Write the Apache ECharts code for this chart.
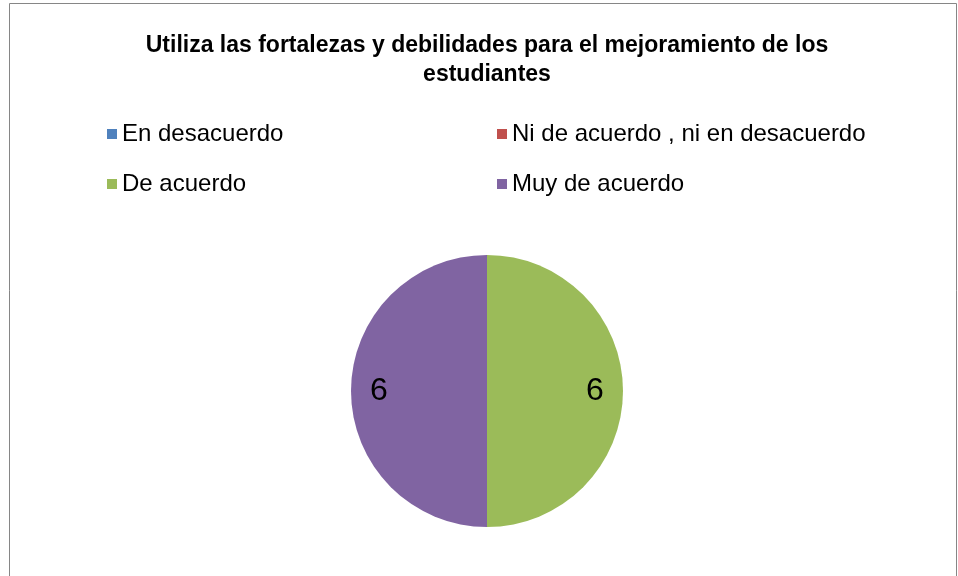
<!DOCTYPE html>
<html>
<head>
<meta charset="utf-8">
<script src="https://cdn.jsdelivr.net/npm/echarts@6/dist/echarts.min.js"></script>
<style>
  html, body { margin: 0; padding: 0; background: #fff; }
  #main { width: 958px; height: 576px; }
</style>
</head>
<body>
<div id="main"></div>
<script>
const titleText = 'Utiliza las fortalezas y debilidades para el mejoramiento de los\nestudiantes';
const categories = ['En desacuerdo', 'Ni de acuerdo , ni en desacuerdo', 'De acuerdo', 'Muy de acuerdo'];
const values = [0, 0, 6, 6];
const colors = ['#4F81BD', '#C0504D', '#9BBB59', '#8064A2'];

const font = '"Liberation Sans", sans-serif';

let chart = echarts.init(document.getElementById('main'));

const pieData = categories.map((name, i) => ({
    name: name,
    value: values[i],
    itemStyle: { color: colors[i] }
}));

let option = {
    animation: false,
    color: colors,
    graphic: [{
        type: 'rect',
        shape: { x: 9.5, y: 3.5, width: 947, height: 620 },
        style: { fill: 'none', stroke: '#868686', lineWidth: 1 },
        silent: true
    }],
    title: {
        text: titleText,
        left: 487,
        textAlign: 'center',
        top: 31,
        padding: 0,
        textStyle: {
            fontFamily: font,
            fontWeight: 'bold',
            fontSize: 23,
            lineHeight: 29,
            color: '#000'
        }
    },
    legend: [{
        orient: 'vertical',
        left: 107,
        top: 122,
        padding: 0,
        itemWidth: 10,
        itemHeight: 10,
        itemGap: 26,
        icon: 'rect',
        data: [categories[0], categories[2]],
        textStyle: { fontFamily: font, fontSize: 24, color: '#000' }
    }, {
        orient: 'vertical',
        left: 497,
        top: 122,
        padding: 0,
        itemWidth: 10,
        itemHeight: 10,
        itemGap: 26,
        icon: 'rect',
        data: [categories[1], categories[3]],
        textStyle: { fontFamily: font, fontSize: 24, color: '#000' }
    }],
    series: [{
        name: 'pie',
        type: 'pie',
        center: [487, 391],
        radius: [0, 136],
        startAngle: 90,
        clockwise: true,
        label: { show: false },
        labelLine: { show: false },
        emphasis: { disabled: true },
        data: pieData
    }, {
        // ring only used to place the value labels
        name: 'labels',
        type: 'pie',
        center: [487, 391],
        radius: [74, 136],
        startAngle: 90,
        clockwise: true,
        silent: true,
        itemStyle: { color: 'rgba(0,0,0,0)' },
        label: {
            show: true,
            position: 'inside',
            fontFamily: font,
            fontSize: 32,
            color: '#000',
            formatter: p => p.value > 0 ? String(p.value) : ''
        },
        labelLine: { show: false },
        emphasis: { disabled: true },
        data: categories.map((name, i) => ({ name: name, value: values[i] }))
    }]
};

chart.setOption(option);
</script>
</body>
</html>
